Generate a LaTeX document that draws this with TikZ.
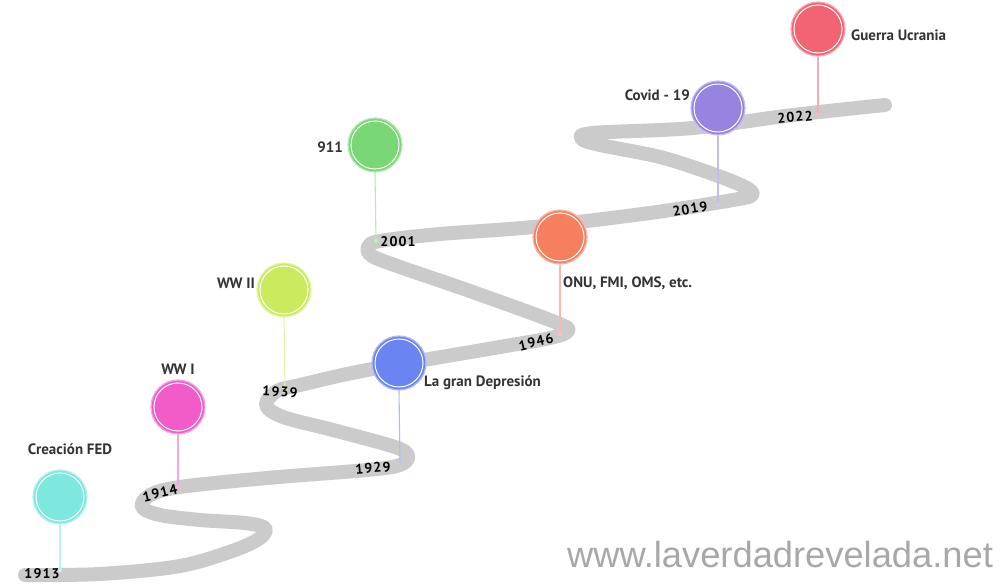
\documentclass[tikz,border=0pt]{standalone}
\usepackage{fontspec}
\setmainfont{PT Sans}
\setsansfont{Liberation Sans}
\newfontfamily\yearfont[LetterSpace=8]{PT Sans}
\definecolor{road}{HTML}{CBCBCB}
\definecolor{cteal}{HTML}{7DE8DD}
\definecolor{cmag}{HTML}{F25CC9}
\definecolor{clime}{HTML}{CBEB5E}
\definecolor{cblue}{HTML}{6A84F2}
\definecolor{cgreen}{HTML}{79D875}
\definecolor{corange}{HTML}{F57F5E}
\definecolor{cpurple}{HTML}{9783E0}
\definecolor{cred}{HTML}{F26473}
\definecolor{wm}{HTML}{A8A8A8}
\begin{document}
\begin{tikzpicture}[x=1pt,y=-1pt,
  roadline/.style={line width=14pt,road,line cap=round,line join=round},
  pin/.style={circle,fill=#1,draw=#1!55,line width=1.2pt,minimum size=54pt,inner sep=0pt,
     path picture={\draw[white,line width=1pt] (path picture bounding box.center) circle (24pt);}},
  stem/.style={draw=#1!55,line width=1.1pt},
  lbl/.style={font=\fontsize{15}{17}\selectfont\bfseries,text=black!80,inner sep=1pt},
  yr/.style={font=\yearfont\fontsize{14}{16}\selectfont\bfseries,text=black,inner sep=0pt}]
\useasboundingbox (0,0) rectangle (1005,585);
\fill[white] (0,0) rectangle (1005,585);
% road
\draw[roadline] plot[smooth,tension=0.55] coordinates {
(25,575) (100,574) (180,566) (235,550) (260,538) (265,528) (245,523) (200,520)
(160,515) (142,507) (150,495) (180,487) (267,478) (367,470) (400,465) (408,456)
(395,447) (333,430) (283,417) (266,405) (277,391) (300,385) (367,370) (500,347)
(550,338) (568,331) (555,322) (467,290) (400,267) (372,256) (368,247) (380,241)
(440,234) (533,227) (650,213) (733,200) (752,195) (745,187) (710,173) (660,157)
(600,145) (582,139) (593,133) (693,128) (793,115) (885,105)};
% stem end points
\coordinate (t1913) at (60,570);
\coordinate (t1914) at (178,487);
\coordinate (t1929) at (400,463);
\coordinate (t1939) at (285,388);
\coordinate (t1946) at (560,334);
\coordinate (t2001) at (376,241);
\coordinate (t2019) at (718,205);
\coordinate (t2022) at (818,115);
% circles
\node[pin=cteal]   (fed)   at (60,497)  {};
\node[pin=cmag]    (ww1)   at (178,407) {};
\node[pin=clime]   (ww2)   at (284,290) {};
\node[pin=cblue]   (dep)   at (399,363) {};
\node[pin=cgreen]  (n911)  at (375,145) {};
\node[pin=corange] (onu)   at (560,237) {};
\node[pin=cpurple] (covid) at (718,108) {};
\node[pin=cred]    (ukr)   at (818,29)  {};
% stems
\draw[stem=cteal]   (fed.south)   -- (t1913);
\draw[stem=cmag]    (ww1.south)   -- (t1914);
\draw[stem=cblue]   (dep.south)   -- (t1929);
\draw[stem=clime]   (ww2.south)   -- (t1939);
\draw[stem=corange] (onu.south)   -- (t1946);
\draw[stem=cgreen]  (n911.south)  -- (t2001);
\draw[stem=cpurple] (covid.south) -- (t2019);
\draw[stem=cred]    (ukr.south)   -- (t2022);
\foreach \t/\c in {t1913/cteal,t1914/cmag,t1929/cblue,t1939/clime,t1946/corange,t2001/cgreen,t2019/cpurple,t2022/cred}
  \fill[\c!45] (\t) circle (2pt);
% event labels
\node[lbl] (lfed)  at (70,449)  {Creación FED};
\node[lbl] (lww1)  at (178,369) {WW I};
\node[lbl,anchor=east] (lww2) at (256,283) {WW II};
\node[lbl,anchor=west] (ldep) at (423,383) {La gran Depresión};
\node[lbl,anchor=east] (l911) at (344,147) {911};
\node[lbl,anchor=west] (lonu) at (562,283) {ONU, FMI, OMS, etc.};
\node[lbl,anchor=east] (lcov) at (691,95)  {Covid - 19};
\node[lbl,anchor=west] (lukr) at (850,35)  {Guerra Ucrania};
% years
\node[yr] (y1913) at (42,574)  {1913};
\node[yr,rotate=14] (y1914) at (160,493) {1914};
\node[yr,rotate=5]  (y1929) at (373,468) {1929};
\node[yr,rotate=-3] (y1939) at (280,392) {1939};
\node[yr,rotate=14] (y1946) at (536,342) {1946};
\node[yr] (y2001) at (398,242) {2001};
\node[yr,rotate=10] (y2019) at (690,209) {2019};
\node[yr,rotate=5]  (y2022) at (795,117) {2022};
% watermark
\node[font=\sffamily\fontsize{36.3}{40}\selectfont,text=wm,anchor=base west,inner sep=0pt] (wmk) at (567,567) {www.laverdadrevelada.net};
\end{tikzpicture}
\end{document}
